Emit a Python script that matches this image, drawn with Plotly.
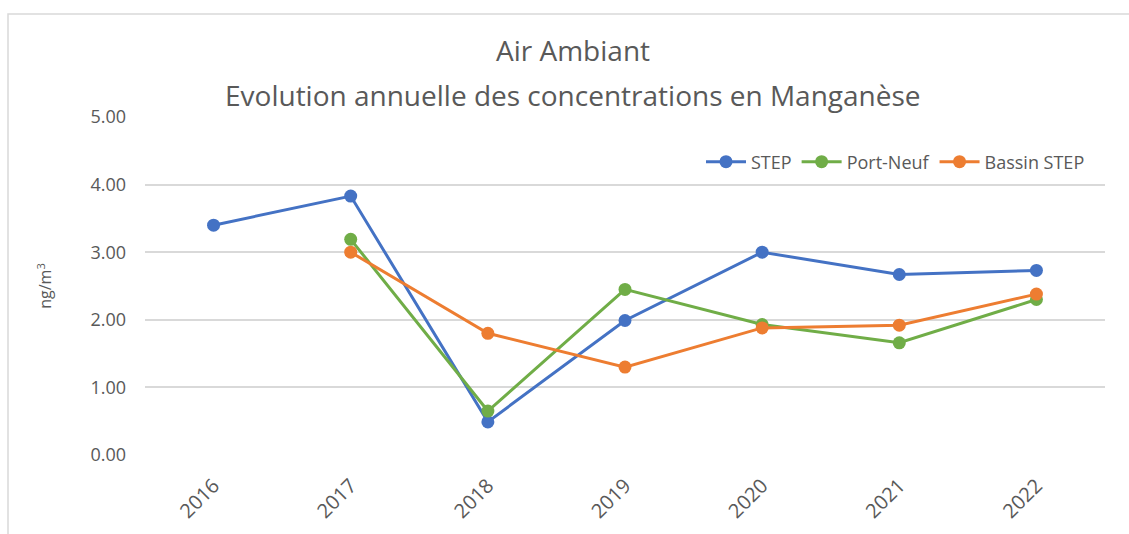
import plotly.graph_objects as go

years = ["2016", "2017", "2018", "2019", "2020", "2021", "2022"]
step = [3.40, 3.83, 0.49, 1.99, 3.00, 2.67, 2.73]
port_neuf = [None, 3.19, 0.65, 2.45, 1.93, 1.66, 2.30]
bassin_step = [None, 3.00, 1.80, 1.30, 1.88, 1.92, 2.38]

title_line1 = "Air Ambiant"
title_line2 = "Evolution annuelle des concentrations en Manganèse"

series = [
    ("STEP", step, "#4472C4"),
    ("Port-Neuf", port_neuf, "#70AD47"),
    ("Bassin STEP", bassin_step, "#ED7D31"),
]

FONT = "Open Sans"
GREY = "#595959"
L, R, T, B = 145, 24, 117, 79
W, H = 1129, 534
PH = H - T - B
PW = W - L - R


def py(pix):
    return (H - B - pix) / PH


def px(pix):
    return (pix - L) / PW


fig = go.Figure()
for name, vals, col in series:
    fig.add_trace(go.Scatter(
        x=years, y=vals, name=name, mode="lines+markers",
        line=dict(color=col, width=3),
        marker=dict(color=col, size=13),
        connectgaps=False,
    ))

fig.update_layout(
    width=W, height=H,
    margin=dict(l=L, r=R, t=T, b=B, autoexpand=False),
    paper_bgcolor="white", plot_bgcolor="white",
    font=dict(family=FONT, color=GREY),
    legend=dict(
        orientation="h", x=px(1090), xanchor="right", y=py(162), yanchor="middle",
        font=dict(family=FONT, size=18, color=GREY),
        bgcolor="rgba(0,0,0,0)", itemwidth=40, tracegroupgap=0,
    ),
    showlegend=True,
)

fig.add_annotation(text=title_line1, xref="paper", yref="paper",
                   x=px(573), y=py(50), xanchor="center", yanchor="middle",
                   showarrow=False, font=dict(family=FONT, size=28, color=GREY))
fig.add_annotation(text=title_line2, xref="paper", yref="paper",
                   x=px(573), y=py(95), xanchor="center", yanchor="middle",
                   showarrow=False, font=dict(family=FONT, size=28, color=GREY))

fig.update_xaxes(
    type="category", range=[-0.5, 6.5], tickangle=-45, automargin=False,
    tickfont=dict(family=FONT, size=20, color=GREY),
    ticklabelstandoff=14,
    showgrid=False, showline=False, ticks="", zeroline=False,
)
fig.update_yaxes(
    range=[0, 5], dtick=1, tickformat=".2f", automargin=False,
    tickfont=dict(family=FONT, size=18, color=GREY),
    showgrid=True, gridcolor="#D9D9D9", gridwidth=1.5,
    zeroline=False, showline=False, ticks="",
    ticklabelstandoff=18,
    title=dict(text="ng/m<sup>3</sup>", font=dict(family=FONT, size=16, color=GREY), standoff=34),
)

# outer chart frame (extends beyond the visible window)
fig.add_shape(type="rect", xref="paper", yref="paper",
              x0=px(8), x1=px(1140), y0=py(560), y1=py(14),
              line=dict(color="#D9D9D9", width=1.5), layer="below")

fig.write_html("out.html", config={"displayModeBar": False},
               post_script="document.body.style.margin='0';")
